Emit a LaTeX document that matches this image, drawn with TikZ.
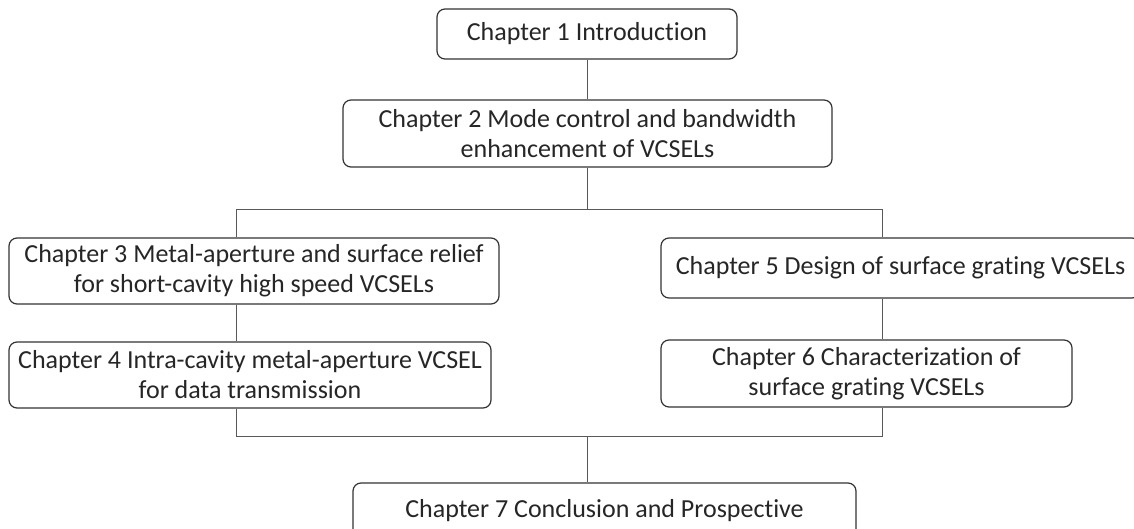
\documentclass[tikz,border=0pt]{standalone}
\usepackage{fontspec}
\setmainfont{Carlito}[RawFeature={-liga}]
\begin{document}
\begin{tikzpicture}[x=1pt,y=-1pt,
  chap/.style={draw=black!80, line width=1.2pt, rounded corners=8pt, align=center,
    inner sep=0pt, font=\fontsize{26}{30}\selectfont, text=black!85},
  link/.style={draw=black!65, line width=1pt}]
\useasboundingbox (0,0) rectangle (1134,529);
\fill[white] (0,0) rectangle (1134,529);
\node[chap, minimum width=300pt, minimum height=50pt] (c1) at (587,34) {Chapter 1 Introduction};
\node[chap, minimum width=489pt, minimum height=67pt] (c2) at (587.5,133.5) {Chapter 2 Mode control and bandwidth\\enhancement of VCSELs};
\node[chap, minimum width=490pt, minimum height=66pt] (c3) at (254,271) {Chapter 3 Metal-aperture and surface relief\\for short-cavity high speed VCSELs};
\node[chap, minimum width=482pt, minimum height=66pt] (c4) at (250,375) {Chapter 4 Intra-cavity metal-aperture VCSEL\\for data transmission};
\node[chap, minimum width=479pt, minimum height=60pt] (c5) at (900.5,268) {Chapter 5 Design of surface grating VCSELs};
\node[chap, minimum width=411pt, minimum height=67pt] (c6) at (866.5,373.5) {Chapter 6 Characterization of\\surface grating VCSELs};
\node[chap, minimum width=503pt, minimum height=56pt] (c7) at (604.5,511) {Chapter 7 Conclusion and Prospective};
\coordinate (jl) at (236,210);
\coordinate (jr) at (882,210);
\coordinate (kl) at (236,436);
\coordinate (kr) at (882,436);
\coordinate (mid) at (587,0);
\draw[link] (c1.south) -- (mid |- c2.north);
\draw[link] (mid |- c2.south) -- (mid |- jl);
\draw[link] (jl |- c3.north) -- (jl) -- (jr) -- (jr |- c5.north);
\draw[link] (jl |- c3.south) -- (jl |- c4.north);
\draw[link] (jr |- c5.south) -- (jr |- c6.north);
\draw[link] (jl |- c4.south) -- (kl) -- (kr) -- (jr |- c6.south);
\draw[link] (mid |- kl) -- (mid |- c7.north);
\end{tikzpicture}
\end{document}
